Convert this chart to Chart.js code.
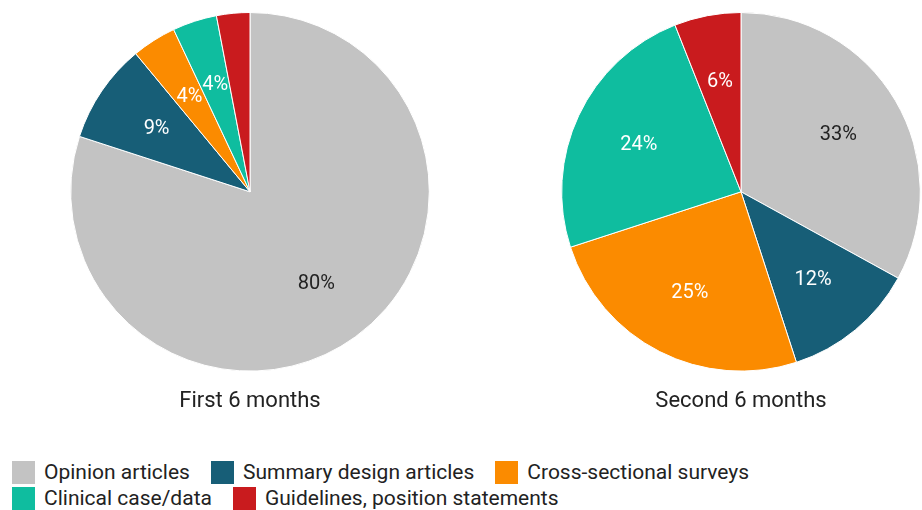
<!DOCTYPE html>
<html>
<head>
<meta charset="utf-8">
<script src="https://cdn.jsdelivr.net/npm/chart.js@4"></script>
<style>
  html, body { margin: 0; padding: 0; background: #fff; overflow: hidden; }
  body { width: 922px; height: 510px; position: relative; font-family: Roboto, sans-serif; }
  .pie { position: absolute; top: 12px; height: 412px; }
  #legend { position: absolute; left: 12px; top: 459px; width: 800px; display: flex; flex-wrap: wrap; }
  .item { display: flex; align-items: center; height: 26px; margin-right: 21px; font-size: 21px; color: #222; }
  .box { width: 23px; height: 23px; margin-right: 9px; }
</style>
</head>
<body>
<div class="pie" style="left:0;width:500px"><canvas id="firstChart"></canvas></div>
<div class="pie" style="left:561px;width:360px"><canvas id="secondChart"></canvas></div>
<div id="legend"></div>
<script>
const categories = [
  "Opinion articles",
  "Summary design articles",
  "Cross-sectional surveys",
  "Clinical case/data",
  "Guidelines, position statements",
];
const colors = ["#c3c3c3", "#175e77", "#fb8b00", "#0fbd9f", "#c91b1e"];
const firstSixMonths = [80, 9, 4, 4, 3];
const secondSixMonths = [33, 12, 25, 24, 6];
const periodTitles = ["First 6 months", "Second 6 months"];

// draws percent labels inside slices (small ones skipped)
const sliceLabels = {
  id: "sliceLabels",
  afterDatasetsDraw(chart) {
    const ctx = chart.ctx;
    const meta = chart.getDatasetMeta(0);
    const values = chart.data.datasets[0].data;
    ctx.save();
    ctx.font = "20px Roboto, sans-serif";
    ctx.textAlign = "center";
    ctx.textBaseline = "middle";
    meta.data.forEach((arc, i) => {
      if (values[i] < 4) return;
      const mid = (arc.startAngle + arc.endAngle) / 2;
      const r = arc.outerRadius * 0.63;
      ctx.fillStyle = i === 0 ? "#222" : "#fff";
      ctx.fillText(values[i] + "%", arc.x + Math.cos(mid) * r, arc.y + Math.sin(mid) * r + 1);
    });
    ctx.restore();
  },
};

function makePie(id, values, title) {
  const ctx = document.getElementById(id).getContext("2d");
  return new Chart(ctx, {
    type: "pie",
    data: {
      labels: categories,
      datasets: [{
        data: values,
        backgroundColor: colors,
        borderColor: "#fff",
        borderWidth: 1,
      }],
    },
    options: {
      responsive: true,
      maintainAspectRatio: false,
      animation: false,
      layout: { padding: 0 },
      plugins: {
        legend: { display: false },
        tooltip: { enabled: false },
        title: {
          display: true,
          position: "bottom",
          text: title,
          color: "#222",
          font: { family: "Roboto", size: 22, weight: "normal" },
          padding: { top: 17, bottom: 9 },
        },
      },
    },
    plugins: [sliceLabels],
  });
}

makePie("firstChart", firstSixMonths, periodTitles[0]);
makePie("secondChart", secondSixMonths, periodTitles[1]);

const legend = document.getElementById("legend");
categories.forEach((name, i) => {
  const item = document.createElement("div");
  item.className = "item";
  const box = document.createElement("span");
  box.className = "box";
  box.style.background = colors[i];
  item.appendChild(box);
  item.appendChild(document.createTextNode(name));
  legend.appendChild(item);
});
</script>
</body>
</html>
